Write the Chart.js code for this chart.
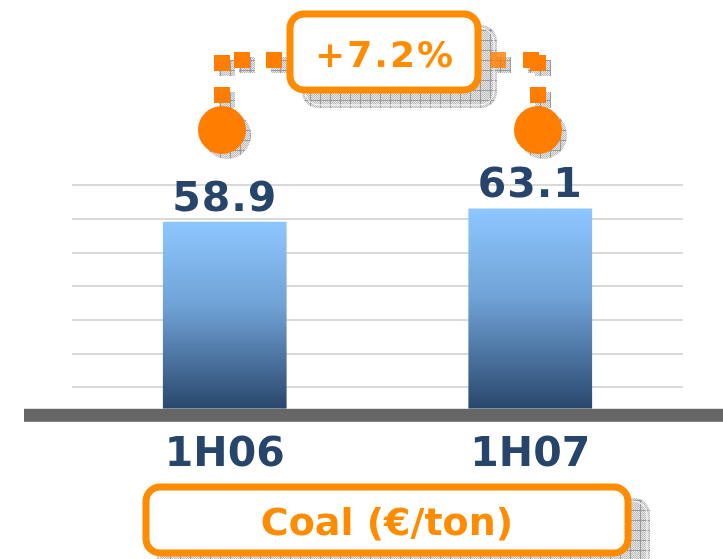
<!DOCTYPE html>
<html><head><meta charset="utf-8">
<script src="https://cdn.jsdelivr.net/npm/chart.js@4.4.0/dist/chart.umd.min.js"></script>
<style>html,body{margin:0;padding:0;background:#fff;overflow:hidden}#wrap{width:723px;height:559px;position:relative}</style>
</head><body><div id="wrap"><canvas id="c" width="723" height="559"></canvas></div>
<script>
const categories = ['1H06', '1H07'];
const coalValues = [58.9, 63.1];
const gridLevels = [6.73, 17.38, 28.03, 38.64, 49.19, 59.81, 70.45];
const changeLabel = '+7.2%';
const unitLabel = 'Coal (€/ton)';

const NAVY = '#27456b';
const ORANGE = '#ff8c00';
const ORANGE_DOT = '#ff7d00';
const FONT = '"DejaVu Sans", Verdana, sans-serif';

function hatchPattern(ctx) {
  const t = document.createElement('canvas');
  t.width = 10; t.height = 10;
  const g = t.getContext('2d');
  g.fillStyle = '#e6e6e6'; g.fillRect(0, 0, 10, 10);
  g.fillStyle = '#bdbdbd';
  for (let y = 0; y < 10; y++) for (let x = 0; x < 10; x++) if ((x + y) % 2 === 0) g.fillRect(x, y, 1, 1);
  g.fillStyle = '#9a9a9a'; g.fillRect(0, 0, 10, 1); g.fillRect(0, 0, 1, 10);
  return ctx.createPattern(t, 'repeat');
}

function barGradient(c) {
  const chart = c.chart;
  const area = chart.chartArea;
  if (!area) return '#6b9ccf';
  const ys = chart.scales.y;
  const top = ys.getPixelForValue(c.raw);
  const bottom = ys.getPixelForValue(0);
  const gr = chart.ctx.createLinearGradient(0, top, 0, bottom);
  gr.addColorStop(0, '#8dc7ff');
  gr.addColorStop(0.45, '#70a2d6');
  gr.addColorStop(1, '#29476c');
  return gr;
}

function shadowBox(ctx, pat, x, y, w, h, r) {
  ctx.save();
  ctx.beginPath(); ctx.roundRect(x, y, w, h, r);
  ctx.fillStyle = pat; ctx.fill();
  ctx.strokeStyle = '#ffffff'; ctx.lineWidth = 1;
  ctx.beginPath(); ctx.roundRect(x + 3, y + 3, w - 6, h - 6, r - 2); ctx.stroke();
  ctx.restore();
}

function orangeBox(ctx, x, y, w, h, r) {
  ctx.save();
  ctx.beginPath(); ctx.roundRect(x, y, w, h, r);
  ctx.fillStyle = '#ffffff'; ctx.fill();
  ctx.lineWidth = 7; ctx.strokeStyle = ORANGE; ctx.stroke();
  ctx.restore();
}

function dotSquare(ctx, pat, x, y, alpha) {
  ctx.save();
  ctx.fillStyle = pat; ctx.fillRect(x + 5, y + 5, 16, 16);
  ctx.globalAlpha = alpha || 1;
  ctx.fillStyle = ORANGE_DOT; ctx.fillRect(x, y, 16, 16);
  ctx.restore();
}

function dotCircle(ctx, pat, cx, cy) {
  ctx.save();
  ctx.beginPath(); ctx.arc(cx + 5, cy + 5, 24, 0, Math.PI * 2); ctx.fillStyle = pat; ctx.fill();
  ctx.beginPath(); ctx.arc(cx, cy, 24, 0, Math.PI * 2); ctx.fillStyle = ORANGE_DOT; ctx.fill();
  ctx.restore();
}

const decor = {
  id: 'decor',
  afterDatasetsDraw(chart) {
    const ctx = chart.ctx;
    const ys = chart.scales.y;
    const base = ys.getPixelForValue(0);
    ctx.save();
    ctx.fillStyle = '#666666';
    ctx.fillRect(24, base, 723 - 24, 13);
    ctx.restore();
    const meta = chart.getDatasetMeta(0);
    ctx.save();
    ctx.font = 'bold 41px ' + FONT;
    ctx.fillStyle = NAVY;
    ctx.textAlign = 'center';
    ctx.textBaseline = 'alphabetic';
    ctx.letterSpacing = '1px';
    meta.data.forEach((el, i) => {
      ctx.fillText(String(coalValues[i]), el.x, el.y - 11);
    });
    ctx.restore();
  },
  afterDraw(chart) {
    const ctx = chart.ctx;
    const pat = hatchPattern(ctx);
    shadowBox(ctx, pat, 302, 25, 195, 83, 16);
    dotSquare(ctx, pat, 214, 55);
    dotSquare(ctx, pat, 234, 52);
    dotSquare(ctx, pat, 266, 52);
    dotSquare(ctx, pat, 214, 87);
    dotCircle(ctx, pat, 222, 130);
    dotSquare(ctx, pat, 523, 52);
    dotSquare(ctx, pat, 530, 55);
    dotSquare(ctx, pat, 530, 87);
    dotCircle(ctx, pat, 538, 130);
    orangeBox(ctx, 290, 14, 188, 76, 14);
    dotSquare(ctx, pat, 490, 52, 0.8);
    ctx.save();
    ctx.font = 'bold 36px ' + FONT;
    ctx.fillStyle = ORANGE;
    ctx.textAlign = 'center';
    ctx.textBaseline = 'alphabetic';
    ctx.letterSpacing = '2px';
    ctx.fillText(changeLabel, 385, 67);
    ctx.restore();
    shadowBox(ctx, pat, 157, 498, 493, 80, 16);
    orangeBox(ctx, 146, 487, 482, 66, 14);
    ctx.save();
    ctx.font = 'bold 38px ' + FONT;
    ctx.fillStyle = ORANGE;
    ctx.textAlign = 'center';
    ctx.textBaseline = 'alphabetic';
    ctx.fillText(unitLabel, 387, 535);
    ctx.restore();
  }
};

new Chart(document.getElementById('c'), {
  type: 'bar',
  data: {
    labels: categories,
    datasets: [{
      data: coalValues,
      backgroundColor: barGradient,
      borderWidth: 0,
      barPercentage: 0.81,
      categoryPercentage: 0.5
    }]
  },
  options: {
    responsive: false,
    animation: false,
    devicePixelRatio: 1,
    layout: { padding: { left: 72, right: 40, top: 185, bottom: 57 } },
    plugins: { legend: { display: false }, tooltip: { enabled: false }, title: { display: false } },
    scales: {
      x: {
        grid: { display: false, drawTicks: false },
        border: { display: false },
        ticks: {
          color: NAVY,
          font: { family: FONT, size: 41, weight: 'bold' },
          padding: 22,
          maxRotation: 0
        }
      },
      y: {
        min: 0,
        max: 70.5,
        afterBuildTicks(scale) { scale.ticks = gridLevels.map(v => ({ value: v })); },
        grid: { color: '#d9d9d9', lineWidth: 2, drawTicks: false },
        border: { display: false },
        ticks: { display: false }
      }
    }
  },
  plugins: [decor]
});
</script>
</body></html>
